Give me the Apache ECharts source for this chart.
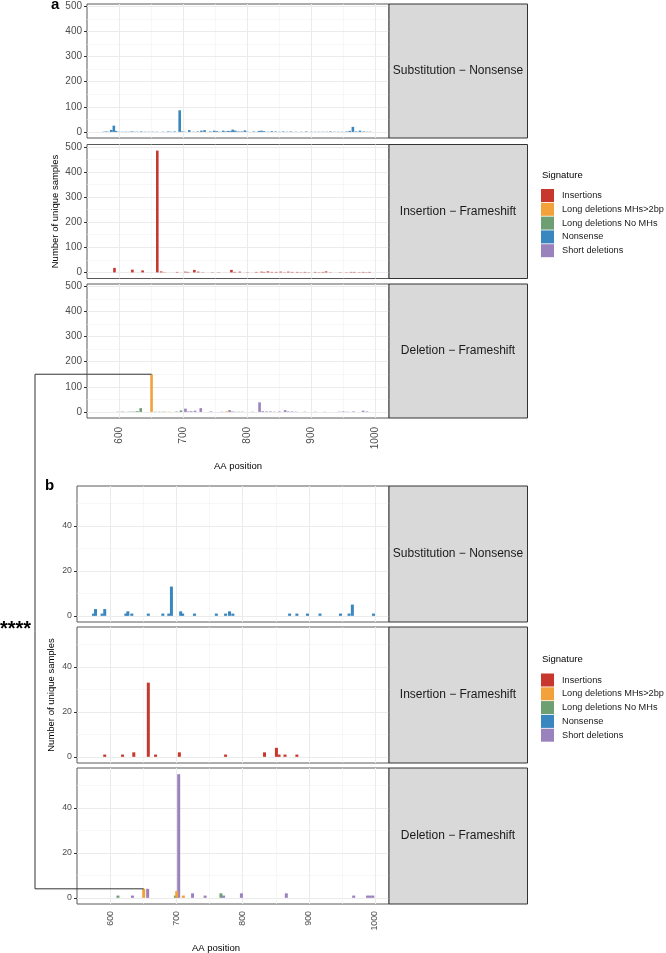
<!DOCTYPE html>
<html>
<head>
<meta charset="utf-8">
<script src="https://cdn.jsdelivr.net/npm/echarts@6/dist/echarts.min.js"></script>
<style>
  html, body { margin: 0; padding: 0; background: #fff; }
  #chart { width: 666px; height: 953px; }
</style>
</head>
<body>
<div id="chart"></div>
<script>
// legend names and colours
var names = ['Insertions', 'Long deletions MHs>2bp', 'Long deletions No MHs', 'Nonsense', 'Short deletions'];
var colors = ['#c8372d', '#f2a13b', '#6e9f72', '#3a86bf', '#9a82bd'];
var stripNames = ['Substitution \u2212 Nonsense', 'Insertion \u2212 Frameshift', 'Deletion \u2212 Frameshift'];

var xTicks = [600, 700, 800, 900, 1000];
var xMinor = [650, 750, 850, 950];
var yTicksA = [0, 100, 200, 300, 400, 500];
var yMinorA = [50, 150, 250, 350, 450];
var yTicksB = [0, 20, 40];
var yMinorB = [10, 30, 50];

// panel a : [AA position, number of samples]
var aNonsense = [[575,1],[579,2],[583,1],[587,8],[591,25],[594,4],[598,1],[604,1],[609,1],[614,1],[619,2],[623,1],[628,1],[634,2],[640,1],[646,1],[652,1],[658,1],[668,1],[676,2],[680,1],[686,2],[694,86],[698,2],[702,1],[709,7],[716,1],[722,2],[728,5],[733,7],[742,2],[748,5],[752,3],[756,1],[762,5],[766,2],[770,4],[774,3],[777,9],[781,5],[786,2],[791,2],[796,6],[800,1],[810,2],[818,4],[822,5],[826,3],[832,1],[838,3],[844,2],[850,1],[856,2],[862,1],[868,2],[876,1],[884,1],[892,2],[900,1],[906,1],[912,1],[918,1],[924,1],[930,2],[936,1],[942,1],[948,1],[955,2],[960,4],[965,20],[970,2],[976,5],[982,2],[987,1],[992,1]];
var aInsertions = [[592,18],[620,11],[636,8],[659,485],[665,4],[670,1],[690,2],[703,3],[707,2],[717,10],[723,3],[730,1],[745,1],[755,1],[775,10],[780,2],[788,3],[800,1],[814,2],[822,3],[826,2],[832,4],[838,2],[845,2],[852,3],[858,1],[864,3],[870,2],[878,2],[884,1],[890,2],[896,1],[906,2],[912,1],[918,2],[923,4],[930,1],[945,1],[955,1],[962,2],[967,2],[975,1],[981,2],[986,1],[991,2]];
var aLongMH = [[672,1],[678,1],[767,2],[771,1],[921,1],[650,150]];
var aLongNoMH = [[597,1],[606,1],[614,1],[622,1],[628,3],[633,15],[656,1],[662,1],[668,1],[688,1],[696,6],[780,1],[786,1],[792,1]];
var aShort = [[603,1],[618,1],[625,1],[690,1],[703,13],[707,2],[712,3],[718,5],[727,15],[743,2],[760,1],[772,7],[776,2],[808,1],[819,38],[824,3],[830,2],[836,2],[842,1],[850,2],[859,7],[864,2],[870,2],[876,1],[890,1],[906,1],[944,1],[950,2],[956,1],[966,2],[981,5],[987,2]];

// panel b
var bNonsense = [[574,1],[577,3],[587,1],[591,3],[623,1],[626,2],[632,1],[657,1],[679,1],[688,1],[692,13],[706,2],[709,1],[727,1],[760,1],[774,1],[780,2],[785,1],[871,1],[882,1],[898,1],[917,1],[948,1],[961,1],[966,5],[998,1]];
var bInsertions = [[591,1],[618,1],[635,2],[657,33],[668,1],[704,2],[774,1],[833,2],[851,4],[855,1],[864,1],[882,1]];
var bLongMH = [[650,4],[700,3],[710,1]];
var bLongNoMH = [[611,1],[698,1],[767,2]];
var bShort = [[633,1],[656,4],[703,55],[724,2],[743,1],[771,1],[798,2],[866,2],[968,1],[989,1],[993,1],[997,1]];

var panels = [
    { top: 4, height: 134, left: 87, width: 302, part: 'a', strip: 0, bars: [[3, aNonsense]] },
    { top: 144.5, height: 134, left: 87, width: 302, part: 'a', strip: 1, bars: [[0, aInsertions]] },
    { top: 284, height: 134, left: 87, width: 302, part: 'a', strip: 2, bars: [[2, aLongNoMH], [4, aShort], [1, aLongMH]] },
    { top: 486, height: 136, left: 77, width: 312, part: 'b', strip: 0, bars: [[3, bNonsense]] },
    { top: 627, height: 136, left: 77, width: 312, part: 'b', strip: 1, bars: [[0, bInsertions]] },
    { top: 768, height: 136, left: 77, width: 312, part: 'b', strip: 2, bars: [[2, bLongNoMH], [4, bShort], [1, bLongMH]] }
];

var font = '"Liberation Sans", Arial, sans-serif';
var grids = [], xAxes = [], yAxes = [], series = [];

panels.forEach(function (p, i) {
    var isA = p.part == 'a';
    var bottom = p.strip == 2;
    var middle = p.strip == 1;
    var labelSize = isA ? 10 : 8.8;
    grids.push({
        left: p.left, top: p.top, width: p.width, height: p.height,
        show: true, backgroundColor: '#fff', borderColor: '#5a5a5a', borderWidth: 1
    });
    xAxes.push({
        type: 'value', gridIndex: i, min: 549, max: 1021.5,
        axisLine: { show: false },
        splitLine: { show: false },
        axisTick: { show: bottom, customValues: xTicks, length: 3, lineStyle: { color: '#333' } },
        axisLabel: {
            show: bottom, customValues: xTicks, rotate: 90, margin: isA ? 9 : 7,
            fontSize: labelSize, color: '#4d4d4d', fontFamily: font,
            formatter: function (v) { return String(v); }
        }
    });
    var yt = isA ? yTicksA : yTicksB;
    yAxes.push({
        type: 'value', gridIndex: i,
        min: isA ? -24.25 : -2.75,
        max: isA ? 509.25 : 57.75,
        axisLine: { show: false },
        splitLine: { show: false },
        axisTick: { show: true, customValues: yt, length: 3, lineStyle: { color: '#333' } },
        axisLabel: { customValues: yt, margin: 5, fontSize: labelSize, color: '#4d4d4d', fontFamily: font },
        name: middle ? 'Number of unique samples' : '',
        nameLocation: 'middle',
        nameRotate: 90,
        nameGap: isA ? 27 : 21,
        nameTextStyle: { fontSize: 9.5, color: '#000', fontFamily: font }
    });

    // background grid lines
    var lines = [];
    (isA ? yMinorA : yMinorB).forEach(function (v) {
        lines.push({ yAxis: v, lineStyle: { color: '#f2f2f2', width: 0.6, type: 'solid' } });
    });
    xMinor.forEach(function (v) {
        lines.push({ xAxis: v, lineStyle: { color: '#f2f2f2', width: 0.6, type: 'solid' } });
    });
    yt.forEach(function (v) {
        lines.push({ yAxis: v, lineStyle: { color: '#ebebeb', width: 1, type: 'solid' } });
    });
    xTicks.forEach(function (v) {
        lines.push({ xAxis: v, lineStyle: { color: '#ebebeb', width: 1, type: 'solid' } });
    });

    p.bars.forEach(function (b, k) {
        var s = {
            type: 'bar',
            name: names[b[0]],
            xAxisIndex: i, yAxisIndex: i,
            barWidth: isA ? 2.6 : 3,
            barGap: '-100%',
            itemStyle: { color: colors[b[0]] },
            data: b[1],
            z: 3,
            silent: true
        };
        if (k == 0) {
            s.markLine = { silent: true, symbol: 'none', z: 1, animation: false, label: { show: false }, data: lines };
        }
        series.push(s);
    });
});

var legendBase = {
    orient: 'vertical', left: 541, icon: 'rect', padding: 0,
    itemWidth: 13, itemHeight: 13, itemGap: 0.8,
    selectedMode: false,
    textStyle: { fontSize: 9.2, color: '#1a1a1a', fontFamily: font, padding: [0, 0, 0, 3] },
    data: names
};

var myChart = echarts.init(document.getElementById('chart'), null, { renderer: 'canvas' });
myChart.setOption({
    animation: false,
    color: colors,
    textStyle: { fontFamily: font },
    grid: grids,
    xAxis: xAxes,
    yAxis: yAxes,
    legend: [
        Object.assign({}, legendBase, { top: 189 }),
        Object.assign({}, legendBase, { top: 673.5 })
    ],
    series: series
});

// strips, labels and the bracket
var graphics = [];
panels.forEach(function (p) {
    graphics.push({
        type: 'rect', z: 10,
        shape: { x: p.left + p.width, y: p.top, width: 138.5, height: p.height },
        style: { fill: '#d9d9d9', stroke: '#333', lineWidth: 1 }
    });
    graphics.push({
        type: 'text', z: 11,
        style: {
            x: p.left + p.width + 69, y: p.top + p.height / 2,
            text: stripNames[p.strip], fill: '#1a1a1a', font: '12px ' + font,
            textAlign: 'center', textVerticalAlign: 'middle'
        }
    });
});
[[175, 'Signature'], [659, 'Signature']].forEach(function (t) {
    graphics.push({
        type: 'text', z: 11,
        style: { x: 542, y: t[0], text: t[1], fill: '#000', font: '9.5px ' + font, textVerticalAlign: 'middle' }
    });
});
[[238, 466], [216, 948]].forEach(function (t) {
    graphics.push({
        type: 'text', z: 11,
        style: { x: t[0], y: t[1], text: 'AA position', fill: '#000', font: '9.5px ' + font, textAlign: 'center', textVerticalAlign: 'middle' }
    });
});
graphics.push({ type: 'text', z: 11, style: { x: 51, y: 5, text: 'a', fill: '#000', font: 'bold 15px ' + font, textVerticalAlign: 'middle' } });
graphics.push({ type: 'text', z: 11, style: { x: 45, y: 486, text: 'b', fill: '#000', font: 'bold 15px ' + font, textVerticalAlign: 'middle' } });
graphics.push({ type: 'text', z: 11, style: { x: 0, y: 619, text: '****', fill: '#000', font: 'bold 20px ' + font, textVerticalAlign: 'top' } });

var pa = myChart.convertToPixel({ gridIndex: 2 }, [650, 150]);
var pb = myChart.convertToPixel({ gridIndex: 5 }, [650, 4]);
graphics.push({
    type: 'polyline', z: 12,
    shape: { points: [[pa[0], pa[1]], [35, pa[1]], [35, pb[1]], [pb[0], pb[1]]] },
    style: { stroke: '#333', lineWidth: 1, fill: null }
});

myChart.setOption({ graphic: graphics });
</script>
</body>
</html>
